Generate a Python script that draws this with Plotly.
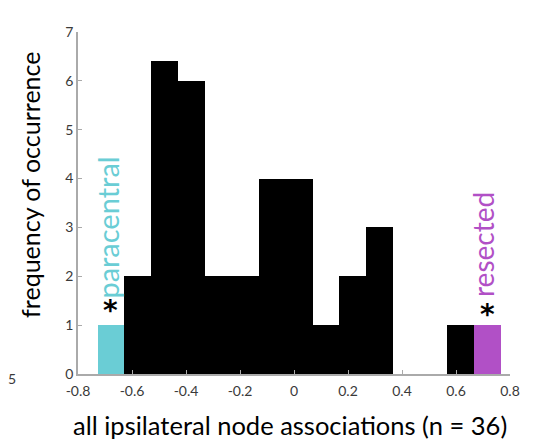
import plotly.graph_objects as go

# histogram bins (centers) and counts
bin_centers = [-0.677, -0.578, -0.478, -0.379, -0.279, -0.180, -0.080, 0.019,
               0.119, 0.218, 0.318, 0.417, 0.517, 0.616, 0.716]
counts = [1, 2, 6.4, 6, 2, 2, 4, 4, 1, 2, 3, 0, 0, 1, 1]
bin_width = 0.1  # very slight overlap avoids hairline seams between bars

CYAN = "rgb(106,205,213)"
MAGENTA = "rgb(177,80,198)"
colors = ["black"] * len(counts)
colors[0] = CYAN
colors[-1] = MAGENTA

x_ticks = [-0.8, -0.6, -0.4, -0.2, 0, 0.2, 0.4, 0.6, 0.8]
x_tick_text = ["-0.8", "-0.6", "-0.4", "-0.2", "0", "0.2", "0.4", "0.6", "0.8"]
y_ticks = [0, 1, 2, 3, 4, 5, 6, 7]

FONT = "Lato"

fig = go.Figure()
fig.add_trace(go.Bar(
    x=bin_centers, y=counts, width=bin_width,
    marker=dict(color=colors, line=dict(width=0)),
    showlegend=False, hoverinfo="skip",
))

# page body has an 8px default margin, so the figure is offset by 8px
fig.update_layout(
    width=525, height=435,
    margin=dict(l=70, r=23, t=24, b=69),
    paper_bgcolor="white", plot_bgcolor="white",
    bargap=0,
    font=dict(family=FONT, color="#333"),
    xaxis=dict(
        range=[-0.8, 0.8], tickvals=x_ticks, ticktext=x_tick_text,
        showline=True, linecolor="#aaaaaa", linewidth=1.5,
        ticks="inside", ticklen=4, tickcolor="#aaaaaa",
        showgrid=False, zeroline=False, automargin=False,
        ticklabelstandoff=3,
        tickfont=dict(size=14, color="#3a3a3a", family=FONT),
    ),
    yaxis=dict(
        range=[0, 7], tickvals=y_ticks,
        showline=True, linecolor="#aaaaaa", linewidth=1.5,
        ticks="inside", ticklen=4, tickcolor="#aaaaaa",
        showgrid=False, zeroline=False, automargin=False,
        tickfont=dict(size=14, color="#3a3a3a", family=FONT),
    ),
)

# axis titles
fig.add_annotation(xref="paper", yref="paper", x=0.491, y=-0.149,
                   text="all ipsilateral node associations (n = 36)",
                   showarrow=False, xanchor="center", yanchor="middle",
                   font=dict(size=25.5, color="black", family=FONT))
fig.add_annotation(xref="paper", yref="paper", x=-0.111, y=0.553,
                   text="frequency of occurrence", textangle=-90,
                   showarrow=False, xanchor="center", yanchor="middle",
                   font=dict(size=25, color="black", family=FONT))

# labels and asterisks
fig.add_annotation(x=-0.69, y=2.99, text="paracentral", textangle=-90,
                   showarrow=False, font=dict(size=29, color=CYAN, family=FONT))
fig.add_annotation(x=0.70, y=2.64, text="resected", textangle=-90,
                   showarrow=False, font=dict(size=28, color=MAGENTA, family=FONT))
fig.add_annotation(x=-0.678, y=1.35, text="<b>*</b>", showarrow=False,
                   yshift=-2, font=dict(size=28, color="black", family="DejaVu Sans"))
fig.add_annotation(x=0.715, y=1.27, text="<b>*</b>", showarrow=False,
                   yshift=-3, font=dict(size=28, color="black", family="DejaVu Sans"))
# stray tick label from neighbouring panel
fig.add_annotation(xref="paper", yref="paper", x=-0.153, y=-0.012, text="5",
                   showarrow=False, xanchor="center", yanchor="middle",
                   font=dict(size=14, color="#3a3a3a", family=FONT))

fig.write_html("out.html")
